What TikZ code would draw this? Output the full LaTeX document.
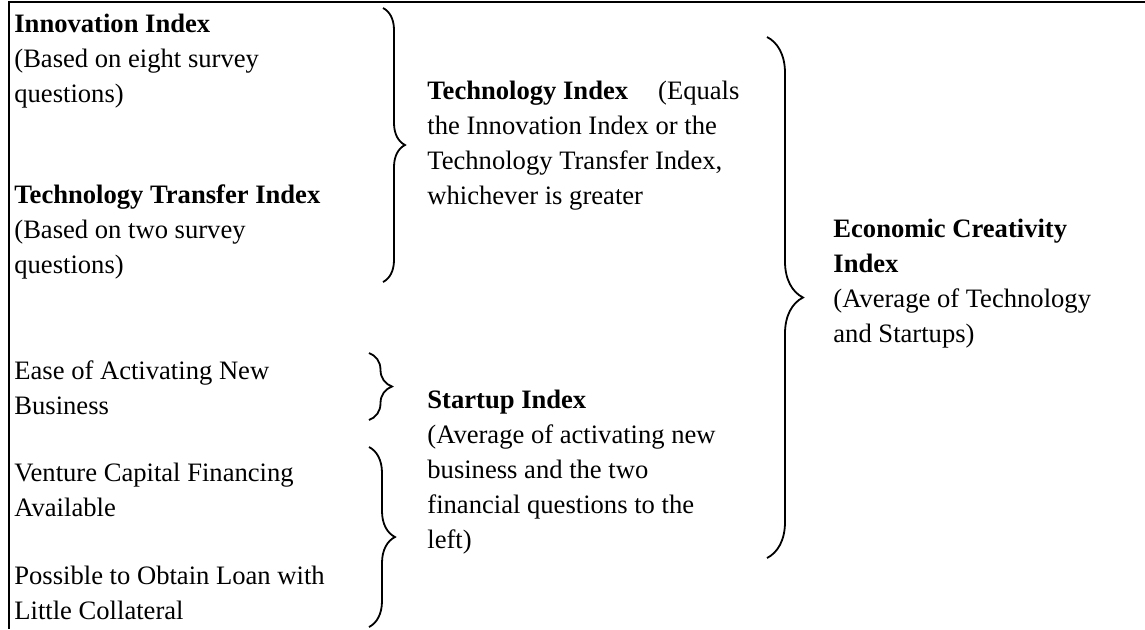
\documentclass[tikz,border=0pt]{standalone}
\usepackage{fontspec}
\setmainfont{Liberation Serif}
\usetikzlibrary{positioning,decorations.pathreplacing}

\tikzset{
  txt/.style={anchor=base west, align=left, inner sep=0pt, font=\fontsize{13.3}{17.5}\selectfont},
  brc/.style={draw, line width=0.9pt, decorate, decoration={brace, amplitude=#1}},
  frame/.style={draw, line width=1pt}
}

\begin{document}
\begin{tikzpicture}[x=0.5pt, y=-0.5pt]
    \useasboundingbox (0,0) rectangle (1145,629);
    \draw[frame] (1145,1.5) -- (8.5,1.5) -- (8.5,629);

    % nodes sit on the baseline of their last line
    \node[txt] (innov) at (14,102) {\textbf{Innovation Index}\\(Based on eight survey\\questions)};
    \node[txt] (techtr) at (14,273) {\textbf{Technology Transfer Index}\\(Based on two survey\\questions)};
    \node[txt] (ease) at (14,414) {Ease of Activating New\\Business};
    \node[txt] (venture) at (14,516) {Venture Capital Financing\\Available};
    \node[txt] (loan) at (14,619) {Possible to Obtain Loan with\\Little Collateral};

    \node[txt] (techidx) at (427,204) {\textbf{Technology Index}\hspace{15pt}(Equals\\the Innovation Index or the\\Technology Transfer Index,\\whichever is greater};
    \node[txt] (startup) at (427,548) {\textbf{Startup Index}\\(Average of activating new\\business and the two\\financial questions to the\\left)};

    \node[txt] (eci) at (833,342) {\textbf{Economic Creativity}\\\textbf{Index}\\(Average of Technology\\and Startups)};

    \coordinate (b1t) at (383,8);
    \coordinate (b1b) at (383,282);
    \coordinate (b2t) at (369,353);
    \coordinate (b2b) at (369,420);
    \coordinate (b3t) at (369,447);
    \coordinate (b3b) at (369,627);
    \coordinate (b4t) at (767,37);
    \coordinate (b4b) at (767,558);

    \draw[brc=11pt] (b1t) -- (b1b);
    \draw[brc=11.5pt] (b2t) -- (b2b);
    \draw[brc=13pt] (b3t) -- (b3b);
    \draw[brc=18pt] (b4t) -- (b4b);
\end{tikzpicture}
\end{document}
